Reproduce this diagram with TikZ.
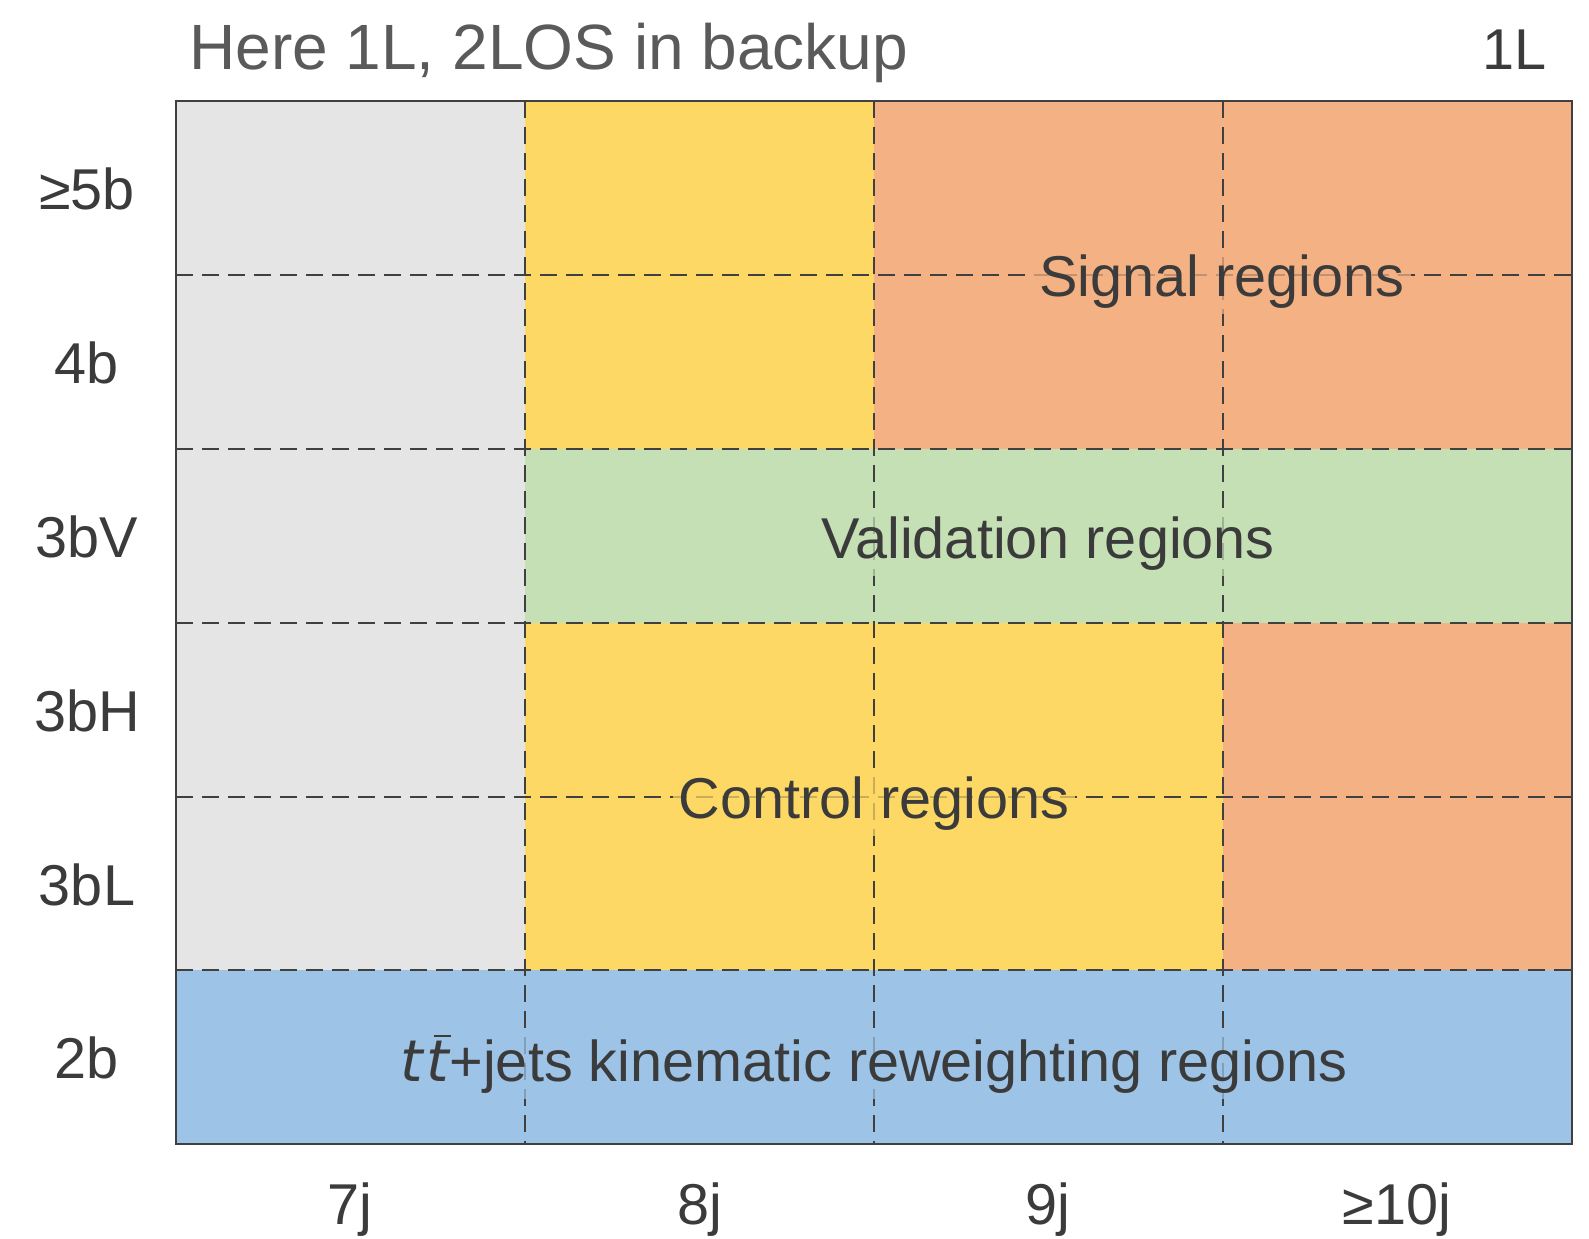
\documentclass[tikz,border=0pt]{standalone}
\usepackage{fontspec}
\setmainfont{Liberation Sans}
\newfontfamily\obliqfont{DejaVu Sans}
% italic t and t with an overbar, as in a top-quark pair symbol
\newcommand\itt{{\obliqfont\itshape t}}
\newcommand\ittbar{\leavevmode\setbox0\hbox{\obliqfont\itshape t}%
  \rlap{\kern0.30\wd0\raisebox{1.08\ht0}{\rule{0.75\wd0}{1.3pt}}}\box0}
\begin{document}
\begin{tikzpicture}[x=0.5pt,y=-0.5pt,
  body/.style={font=\fontsize{28.8}{34}\selectfont, text=txtgrey, inner sep=0pt},
  axislab/.style={body, anchor=base},
  regionlab/.style={body, anchor=base, inner sep=3pt, fill opacity=0.72, text opacity=1},
  cellline/.style={draw=linegrey, line width=1.2pt, dash pattern=on 8.5pt off 4.5pt},
  frame/.style={draw=linegrey, line width=1.3pt}]
\definecolor{txtgrey}{HTML}{3B3B3B}
\definecolor{titlegrey}{HTML}{5A5A5A}
\definecolor{linegrey}{HTML}{404040}
\definecolor{cgrey}{HTML}{E5E5E5}
\definecolor{cyellow}{HTML}{FDD865}
\definecolor{corange}{HTML}{F4B183}
\definecolor{cgreen}{HTML}{C5E0B4}
\definecolor{cblue}{HTML}{9DC3E6}
\useasboundingbox[fill=white] (0,0) rectangle (1589,1238);
% column edges 176,525,874,1223,1572 ; row edges 101,275,449,623,797,970,1144
% region fills
\fill[cgrey]   (176,101) rectangle (525,970);
\fill[cyellow] (525,101) rectangle (874,449);
\fill[corange] (874,101) rectangle (1572,449);
\fill[cgreen]  (525,449) rectangle (1572,623);
\fill[cyellow] (525,623) rectangle (1223,970);
\fill[corange] (1223,623) rectangle (1572,970);
\fill[cblue]   (176,970) rectangle (1572,1144);
% inner cell boundaries
\foreach \cx in {525,874,1223} \draw[cellline] (\cx,101) -- (\cx,1144);
\foreach \cy in {275,449,623,797,970} \draw[cellline] (176,\cy) -- (1572,\cy);
% region labels
\node[regionlab, fill=corange] (sig) at (1222,296) {Signal regions};
\node[regionlab, fill=cgreen]  (val) at (1048,558) {Validation regions};
\node[regionlab, fill=cyellow] (ctl) at (874,818) {Control regions};
\node[regionlab, fill=cblue]   (ttb) at (874,1081) {\itt\kern2pt\ittbar+jets kinematic reweighting regions};
% outer frame
\draw[frame] (176,101) rectangle (1572,1144);
% row labels
\node[axislab] (r5) at (87,209)  {≥5b};
\node[axislab] (r4) at (87,383)  {4b};
\node[axislab] (rv) at (87,557)  {3bV};
\node[axislab] (rh) at (87,731)  {3bH};
\node[axislab] (rl) at (87,905)  {3bL};
\node[axislab] (r2) at (87,1078) {2b};
% column labels
\node[axislab] (c7)  at (350,1224)  {7j};
\node[axislab] (c8)  at (700,1224)  {8j};
\node[axislab] (c9)  at (1048,1224) {9j};
\node[axislab] (c10) at (1397,1224) {≥10j};
% headings
\node[anchor=base west, inner sep=0pt, text=titlegrey, font=\fontsize{32}{38}\selectfont] (title) at (189,69) {Here 1L, 2LOS in backup};
\node[anchor=base east, inner sep=0pt, text=txtgrey, font=\fontsize{28.8}{34}\selectfont] (chan) at (1547,69) {1L};
\end{tikzpicture}
\end{document}
